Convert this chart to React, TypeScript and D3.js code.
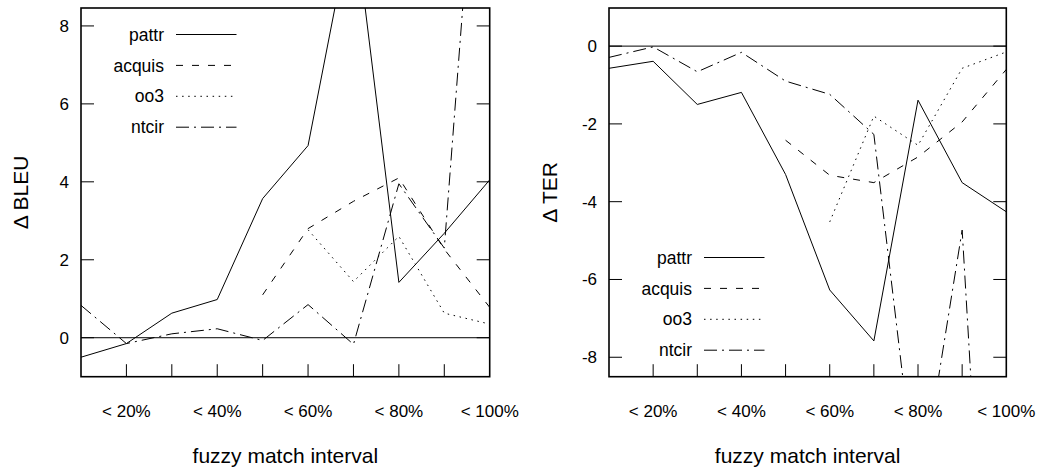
import React from "react";
import * as d3 from "d3";

// ---- data ----
const categories = ["< 10%", "< 20%", "< 30%", "< 40%", "< 50%", "< 60%", "< 70%", "< 80%", "< 90%", "< 100%"];
const labelledCategories = ["< 20%", "< 40%", "< 60%", "< 80%", "< 100%"];
const seriesNames = ["pattr", "acquis", "oo3", "ntcir"];

const bleuPattr = [-0.5, -0.15, 0.63, 0.98, 3.57, 4.93, 10.9, 1.42, 2.68, 4.05];
const bleuAcquis = [null, null, null, null, 1.1, 2.8, 3.5, 4.1, 2.27, 0.78];
const bleuOo3 = [null, null, null, null, null, 2.77, 1.44, 2.6, 0.63, 0.35];
const bleuNtcir = [0.83, -0.15, 0.1, 0.23, -0.07, 0.85, -0.17, 3.95, 2.3, 17.5];

const terPattr = [-0.57, -0.39, -1.5, -1.19, -3.3, -6.27, -7.58, -1.39, -3.51, -4.26];
const terAcquis = [null, null, null, null, -2.42, -3.32, -3.51, -2.85, -1.95, -0.6];
const terOo3 = [null, null, null, null, null, -4.52, -1.8, -2.55, -0.57, -0.15];
const terNtcir = [-0.29, -0.02, -0.66, -0.16, -0.9, -1.24, -2.27, -11.8, -4.73, -24];

const bleuTicks = [0, 2, 4, 6, 8];
const terTicks = [0, -2, -4, -6, -8];

const FONT = "'Liberation Sans', Arial, Helvetica, sans-serif";
const DASHES = ["none", "7,9", "1.5,4.6", "13,5,2,5"];

type PanelProps = {
  id: string;
  left: number;
  top: number;
  right: number;
  bottom: number;
  domain: [number, number];
  ticks: number[];
  series: (number | null)[][];
  yTitle: string;
  yTitleX: number;
  legendTop: boolean;
};

function Panel(p: PanelProps) {
  const x = d3.scalePoint<string>().domain(categories).range([p.left, p.right]);
  const y = d3.scaleLinear().domain(p.domain).range([p.bottom, p.top]);
  const line = d3
    .line<number | null>()
    .defined((d) => d != null)
    .x((_, i) => x(categories[i]) as number)
    .y((d) => y(d as number));
  const cx = (p.left + p.right) / 2;
  const cy = (p.top + p.bottom) / 2;
  const legendY0 = p.legendTop ? p.top + 26.5 : p.bottom - 26.5 - 3 * 30.9;
  return (
    <g>
      <defs>
        <clipPath id={p.id}>
          <rect x={p.left} y={p.top} width={p.right - p.left} height={p.bottom - p.top} />
        </clipPath>
      </defs>
      {/* zero line */}
      <line x1={p.left} x2={p.right} y1={y(0)} y2={y(0)} stroke="#000" strokeWidth={1} />
      {/* y ticks both sides */}
      {p.ticks.map((t) => (
        <g key={"yt" + t}>
          <line x1={p.left} x2={p.left + 13} y1={y(t)} y2={y(t)} stroke="#000" strokeWidth={1} />
          <line x1={p.right - 13} x2={p.right} y1={y(t)} y2={y(t)} stroke="#000" strokeWidth={1} />
          <text x={p.left - 12} y={y(t)} dy="0.35em" textAnchor="end" fontSize={17} fontFamily={FONT}>
            {t}
          </text>
        </g>
      ))}
      {/* x ticks */}
      {categories.slice(1, -1).map((c) => (
        <line key={"xt" + c} x1={x(c)} x2={x(c)} y1={p.bottom} y2={p.bottom - 12.5} stroke="#000" strokeWidth={1} />
      ))}
      {labelledCategories.map((c) => (
        <text key={"xl" + c} x={x(c)} y={p.bottom + 40} textAnchor="middle" fontSize={17} fontFamily={FONT}>
          {c}
        </text>
      ))}
      {/* data */}
      <g clipPath={`url(#${p.id})`}>
        {p.series.map((s, k) => (
          <path key={"s" + k} d={line(s) || ""} fill="none" stroke="#000" strokeWidth={1} strokeDasharray={DASHES[k]} />
        ))}
      </g>
      {/* legend */}
      {seriesNames.map((n, k) => {
        const ly = legendY0 + k * 30.9;
        return (
          <g key={"lg" + n}>
            <text x={p.left + 83} y={ly} dy="0.35em" textAnchor="end" fontSize={17.5} fontFamily={FONT}>
              {n}
            </text>
            <line x1={p.left + 95} x2={p.left + 155.5} y1={ly} y2={ly} stroke="#000" strokeWidth={1} strokeDasharray={DASHES[k]} />
          </g>
        );
      })}
      {/* frame */}
      <rect x={p.left} y={p.top} width={p.right - p.left} height={p.bottom - p.top} fill="none" stroke="#000" strokeWidth={1.6} />
      {/* titles */}
      <text
        transform={`translate(${p.yTitleX},${cy}) rotate(-90)`}
        textAnchor="middle"
        fontSize={21}
        fontFamily={FONT}
      >
        {p.yTitle}
      </text>
      <text x={cx} y={463} textAnchor="middle" fontSize={21} fontFamily={FONT}>
        fuzzy match interval
      </text>
    </g>
  );
}

export default function App() {
  return (
    <svg
      width={1039}
      height={471}
      style={{ position: "absolute", left: 0, top: 0, background: "#fff" }}
    >
      <rect x={0} y={0} width={1039} height={471} fill="#fff" />
      <Panel
        id="clipL"
        left={81}
        top={8}
        right={489.7}
        bottom={376.7}
        domain={[-1, 8.46]}
        ticks={bleuTicks}
        series={[bleuPattr, bleuAcquis, bleuOo3, bleuNtcir]}
        yTitle="Δ BLEU"
        yTitleX={28}
        legendTop={true}
      />
      <Panel
        id="clipR"
        left={609}
        top={8}
        right={1006.3}
        bottom={376.7}
        domain={[-8.5, 0.98]}
        ticks={terTicks}
        series={[terPattr, terAcquis, terOo3, terNtcir]}
        yTitle="Δ TER"
        yTitleX={556.5}
        legendTop={false}
      />
    </svg>
  );
}
